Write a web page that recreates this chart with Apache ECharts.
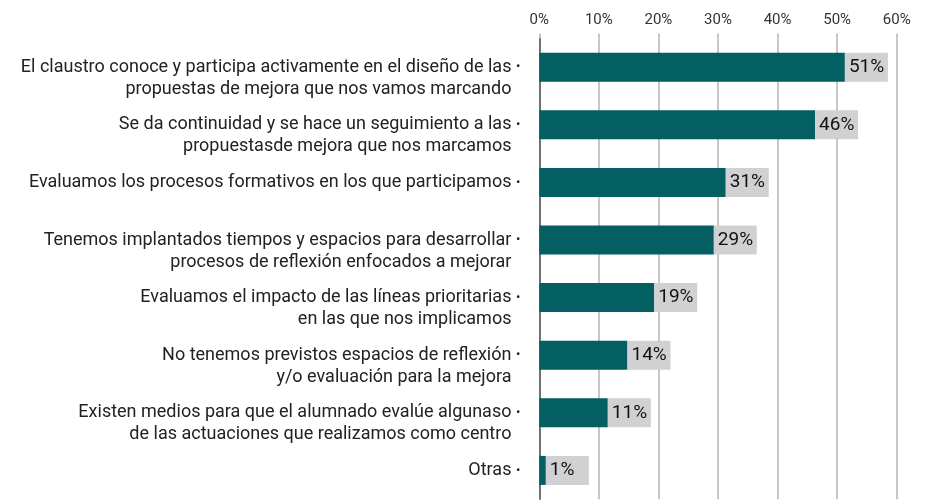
<!DOCTYPE html>
<html>
<head>
<meta charset="utf-8">
<script src="https://cdn.jsdelivr.net/npm/echarts@6/dist/echarts.min.js"></script>
<style>
html, body { margin: 0; padding: 0; background: #fff; }
#chart { width: 934px; height: 501px; }
</style>
</head>
<body>
<div id="chart"></div>
<script>
// categories, top to bottom (each entry = label lines)
var categories = [
	['El claustro conoce y participa activamente en el diseño de las', 'propuestas de mejora que nos vamos marcando'],
	['Se da continuidad y se hace un seguimiento a las', 'propuestasde mejora que nos marcamos'],
	['Evaluamos los procesos formativos en los que participamos'],
	['Tenemos implantados tiempos y espacios para desarrollar', 'procesos de reflexión enfocados a mejorar'],
	['Evaluamos el impacto de las líneas prioritarias', 'en las que nos implicamos'],
	['No tenemos previstos espacios de reflexión', 'y/o evaluación para la mejora'],
	['Existen medios para que el alumnado evalúe algunaso', 'de las actuaciones que realizamos como centro'],
	['Otras']
];
// bar lengths (percent)
var values = [51.3, 46.3, 31.3, 29.3, 19.3, 14.8, 11.5, 1.1];
// printed value labels
var valueLabels = ['51%', '46%', '31%', '29%', '19%', '14%', '11%', '1%'];
var xTicks = [0, 10, 20, 30, 40, 50, 60];

var FONT = "Roboto, sans-serif";

var chart = echarts.init(document.getElementById('chart'));
chart.setOption({
	animation: false,
	textStyle: { fontFamily: FONT },
	grid: {
		left: 539.3,
		right: 37.3,
		top: 38.4,
		bottom: 1.8,
		containLabel: false
	},
	xAxis: {
		type: 'value',
		position: 'top',
		min: xTicks[0],
		max: xTicks[xTicks.length - 1],
		interval: 10,
		axisLine: { show: false },
		axisTick: {
			show: true,
			inside: false,
			length: 5,
			lineStyle: { color: '#b4b4b4', width: 1.5 }
		},
		axisLabel: {
			formatter: '{value}%',
			fontSize: 15,
			color: '#333',
			margin: 11,
			showMinLabel: true,
			showMaxLabel: true,
			fontFamily: FONT
		},
		splitLine: {
			show: true,
			lineStyle: { color: '#b4b4b4', width: 1.5 }
		}
	},
	yAxis: {
		type: 'category',
		inverse: true,
		data: categories.map(function(c, i) { return String(i); }),
		axisLine: { show: true, lineStyle: { color: '#555', width: 1.5 } },
		axisTick: { show: false },
		axisLabel: {
			margin: 19,
			fontSize: 18,
			lineHeight: 22,
			color: '#222',
			align: 'right',
			interval: 0,
			showMinLabel: true,
			showMaxLabel: true,
			hideOverlap: false,
			fontFamily: FONT,
			formatter: function(v) {
				var lines = categories[+v];
				var s = lines[0] + ' {b|•}';
				if (lines.length > 1) {
					s = '{t|}\n' + s + '\n' + lines[1] + ' {h|•}';
				}
				return s;
			},
			rich: {
				t: { fontSize: 18, lineHeight: 22, fontFamily: FONT },
				b: { fontSize: 13, lineHeight: 22, color: '#222', fontFamily: FONT },
				h: { fontSize: 13, lineHeight: 22, color: 'rgba(0,0,0,0)', fontFamily: FONT }
			}
		}
	},
	series: [
		{
			type: 'bar',
			data: values,
			barWidth: 29,
			itemStyle: { color: '#045f62' },
			label: {
				show: true,
				position: 'right',
				distance: 0,
				formatter: function(p) { return valueLabels[p.dataIndex]; },
				backgroundColor: '#d1d1d3',
				color: '#111',
				fontSize: 19,
				fontFamily: FONT,
				width: 35,
				height: 29,
				lineHeight: 29,
				padding: [0, 4, 0, 4],
				align: 'left'
			}
		}
	]
});
</script>
</body>
</html>
